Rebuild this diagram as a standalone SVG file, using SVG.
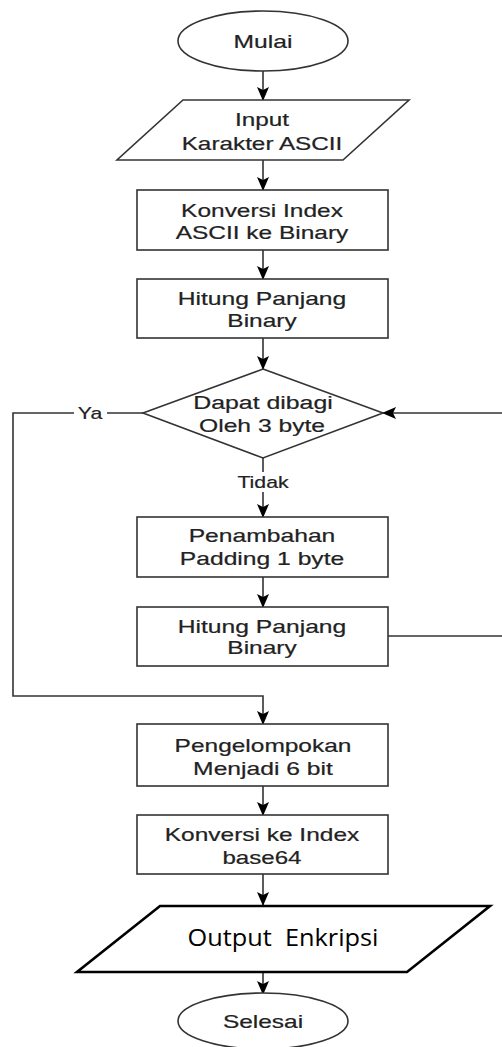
<svg xmlns="http://www.w3.org/2000/svg" width="502" height="1047" viewBox="0 0 502 1047">
<defs>
<marker id="arr" viewBox="0 0 14 12" refX="13" refY="6" markerWidth="14" markerHeight="12" markerUnits="userSpaceOnUse" orient="auto">
<path d="M0,0 L14,6 L0,12 L3,6 Z" fill="#000"/>
</marker>
<style>
.shape{fill:#fff;stroke:#333;stroke-width:1.6}
.bold{fill:#fff;stroke:#000;stroke-width:2.6}
.edge{fill:none;stroke:#333;stroke-width:1.6}
.t{font-family:"Liberation Sans",Arial,sans-serif;font-size:18px;fill:#222;stroke:#222;stroke-width:0.2;text-anchor:middle}
.lbl{font-family:"Liberation Sans",Arial,sans-serif;font-size:17px;fill:#222;stroke:#222;stroke-width:0.2;text-anchor:middle}
.c{font-family:"Open Sans","Noto Sans",sans-serif;font-size:24px;fill:#000;text-anchor:middle;white-space:pre}
</style>
</defs>
<rect width="502" height="1047" fill="#fff"/>
<g id="connectors">
<path class="edge" d="M263,71 V100" marker-end="url(#arr)"/>
<path class="edge" d="M263,160 V190" marker-end="url(#arr)"/>
<path class="edge" d="M263,250 V279" marker-end="url(#arr)"/>
<path class="edge" d="M263,338 V369" marker-end="url(#arr)"/>
<path class="edge" d="M263,458 V517" marker-end="url(#arr)"/>
<path class="edge" d="M263,577 V607" marker-end="url(#arr)"/>
<path class="edge" d="M388,636 H504 V413 H383" marker-end="url(#arr)"/>
<path class="edge" d="M143,413 H13 V696 H263 V724" marker-end="url(#arr)"/>
<path class="edge" d="M263,786 V815" marker-end="url(#arr)"/>
<path class="edge" d="M263,874 V905" marker-end="url(#arr)"/>
<path class="edge" d="M263,972 V994" marker-end="url(#arr)"/>
<rect x="74" y="403" width="33" height="20" fill="#fff"/>
<text class="lbl" transform="translate(90 419) scale(1.25 1)">Ya</text>
<rect x="234" y="472" width="58" height="20" fill="#fff"/>
<text class="lbl" transform="translate(263 488) scale(1.25 1)">Tidak</text>
</g>
<g id="mulai">
<ellipse class="shape" cx="263" cy="41" rx="85" ry="30"/>
<text class="t" transform="translate(263 47.5) scale(1.37 1)">Mulai</text>
</g>
<g id="input">
<polygon class="shape" points="183,100 409,100 343,160 117,160"/>
<text class="t" transform="translate(262 125.5) scale(1.35 1)">Input</text>
<text class="t" transform="translate(262 149.5) scale(1.35 1)">Karakter ASCII</text>
</g>
<g id="konversi">
<rect class="shape" x="137" y="190" width="251" height="60"/>
<text class="t" transform="translate(262 216.5) scale(1.36 1)">Konversi Index</text>
<text class="t" transform="translate(262 238.5) scale(1.36 1)">ASCII ke Binary</text>
</g>
<g id="hitung1">
<rect class="shape" x="137" y="279" width="251" height="59"/>
<text class="t" transform="translate(262 304.5) scale(1.37 1)">Hitung Panjang</text>
<text class="t" transform="translate(262 326.5) scale(1.36 1)">Binary</text>
</g>
<g id="decision">
<polygon class="shape" points="263,369 383,413 263,458 143,413"/>
<text class="t" transform="translate(263 408.5) scale(1.38 1)">Dapat dibagi</text>
<text class="t" transform="translate(262 431.5) scale(1.37 1)">Oleh 3 byte</text>
</g>
<g id="padding">
<rect class="shape" x="137" y="517" width="251" height="60"/>
<text class="t" transform="translate(262 541.5) scale(1.37 1)">Penambahan</text>
<text class="t" transform="translate(262 564.5) scale(1.37 1)">Padding 1 byte</text>
</g>
<g id="hitung2">
<rect class="shape" x="137" y="607" width="251" height="59"/>
<text class="t" transform="translate(262 632.5) scale(1.37 1)">Hitung Panjang</text>
<text class="t" transform="translate(262 653.5) scale(1.36 1)">Binary</text>
</g>
<g id="pengelompokan">
<rect class="shape" x="137" y="724" width="251" height="62"/>
<text class="t" transform="translate(263 751.5) scale(1.36 1)">Pengelompokan</text>
<text class="t" transform="translate(263 774.5) scale(1.37 1)">Menjadi 6 bit</text>
</g>
<g id="base64">
<rect class="shape" x="137" y="815" width="251" height="59"/>
<text class="t" transform="translate(262 841) scale(1.36 1)">Konversi ke Index</text>
<text class="t" transform="translate(262 863.5) scale(1.34 1)">base64</text>
</g>
<g id="output">
<polygon class="bold" points="160,906 490,906 407,972 77,972"/>
<text class="c" x="283" y="946" textLength="191" lengthAdjust="spacingAndGlyphs" xml:space="preserve">Output  Enkripsi</text>
</g>
<g id="selesai">
<ellipse class="shape" cx="263" cy="1021" rx="85" ry="28"/>
<text class="t" transform="translate(263 1028) scale(1.36 1)">Selesai</text>
</g>
</svg>
